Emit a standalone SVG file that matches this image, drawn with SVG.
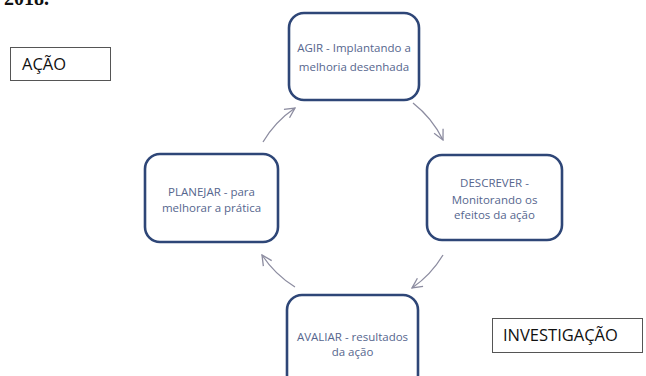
<svg xmlns="http://www.w3.org/2000/svg" width="646" height="376" viewBox="0 0 646 376">
<defs>
<style>
.node{fill:#ffffff;stroke:#2e4677;stroke-width:2.6}
.nt{font-family:"Open Sans","Liberation Sans",sans-serif;font-size:11.5px;fill:#56668e;text-anchor:middle}
.lbl{fill:#ffffff;stroke:#555555;stroke-width:1}
.lt{font-family:"Open Sans","Liberation Sans",sans-serif;font-size:16.5px;fill:#111111}
.conn{fill:none;stroke:#8c8ca0;stroke-width:1.3}
</style>
<marker id="ah" viewBox="0 0 12 12" refX="11" refY="6" markerWidth="12" markerHeight="12" markerUnits="userSpaceOnUse" orient="auto">
<path d="M1 1 L11 6 L1 11" fill="none" stroke="#8c8ca0" stroke-width="1.3"/>
</marker>
</defs>
<rect width="646" height="376" fill="#ffffff"/>
<text x="4" y="5" font-family="Liberation Serif,serif" font-weight="bold" font-size="20" fill="#111111">2018.</text>
<g id="acao">
<rect class="lbl" x="10.5" y="47.5" width="100" height="33"/>
<text class="lt" x="22" y="70">AÇÃO</text>
</g>
<g id="investigacao">
<rect class="lbl" x="492.5" y="318.5" width="150" height="34"/>
<text class="lt" x="503" y="341">INVESTIGAÇÃO</text>
</g>
<g id="agir">
<rect class="node" x="289" y="13" width="130" height="87" rx="15"/>
<text class="nt" x="354" y="52">AGIR - Implantando a</text>
<text class="nt" x="354" y="71">melhoria desenhada</text>
</g>
<g id="descrever">
<rect class="node" x="427" y="155" width="135" height="85" rx="15"/>
<text class="nt" x="494.5" y="187">DESCREVER -</text>
<text class="nt" x="494.5" y="204">Monitorando os</text>
<text class="nt" x="494.5" y="219">efeitos da ação</text>
</g>
<g id="avaliar">
<rect class="node" x="287" y="295" width="131" height="95" rx="15"/>
<text class="nt" x="352.5" y="341">AVALIAR - resultados</text>
<text class="nt" x="352.5" y="356">da ação</text>
</g>
<g id="planejar">
<rect class="node" x="145" y="154" width="133" height="88" rx="15"/>
<text class="nt" x="211.5" y="196">PLANEJAR - para</text>
<text class="nt" x="211.5" y="212">melhorar a prática</text>
</g>
<g id="connectors">
<path class="conn" d="M263 142 A107 107 0 0 1 295 108" marker-end="url(#ah)"/>
<path class="conn" d="M413 103 A107 107 0 0 1 443 140" marker-end="url(#ah)"/>
<path class="conn" d="M443 255 A107 107 0 0 1 412 288" marker-end="url(#ah)"/>
<path class="conn" d="M295 287 A107 107 0 0 1 262 255" marker-end="url(#ah)"/>
</g>
</svg>
